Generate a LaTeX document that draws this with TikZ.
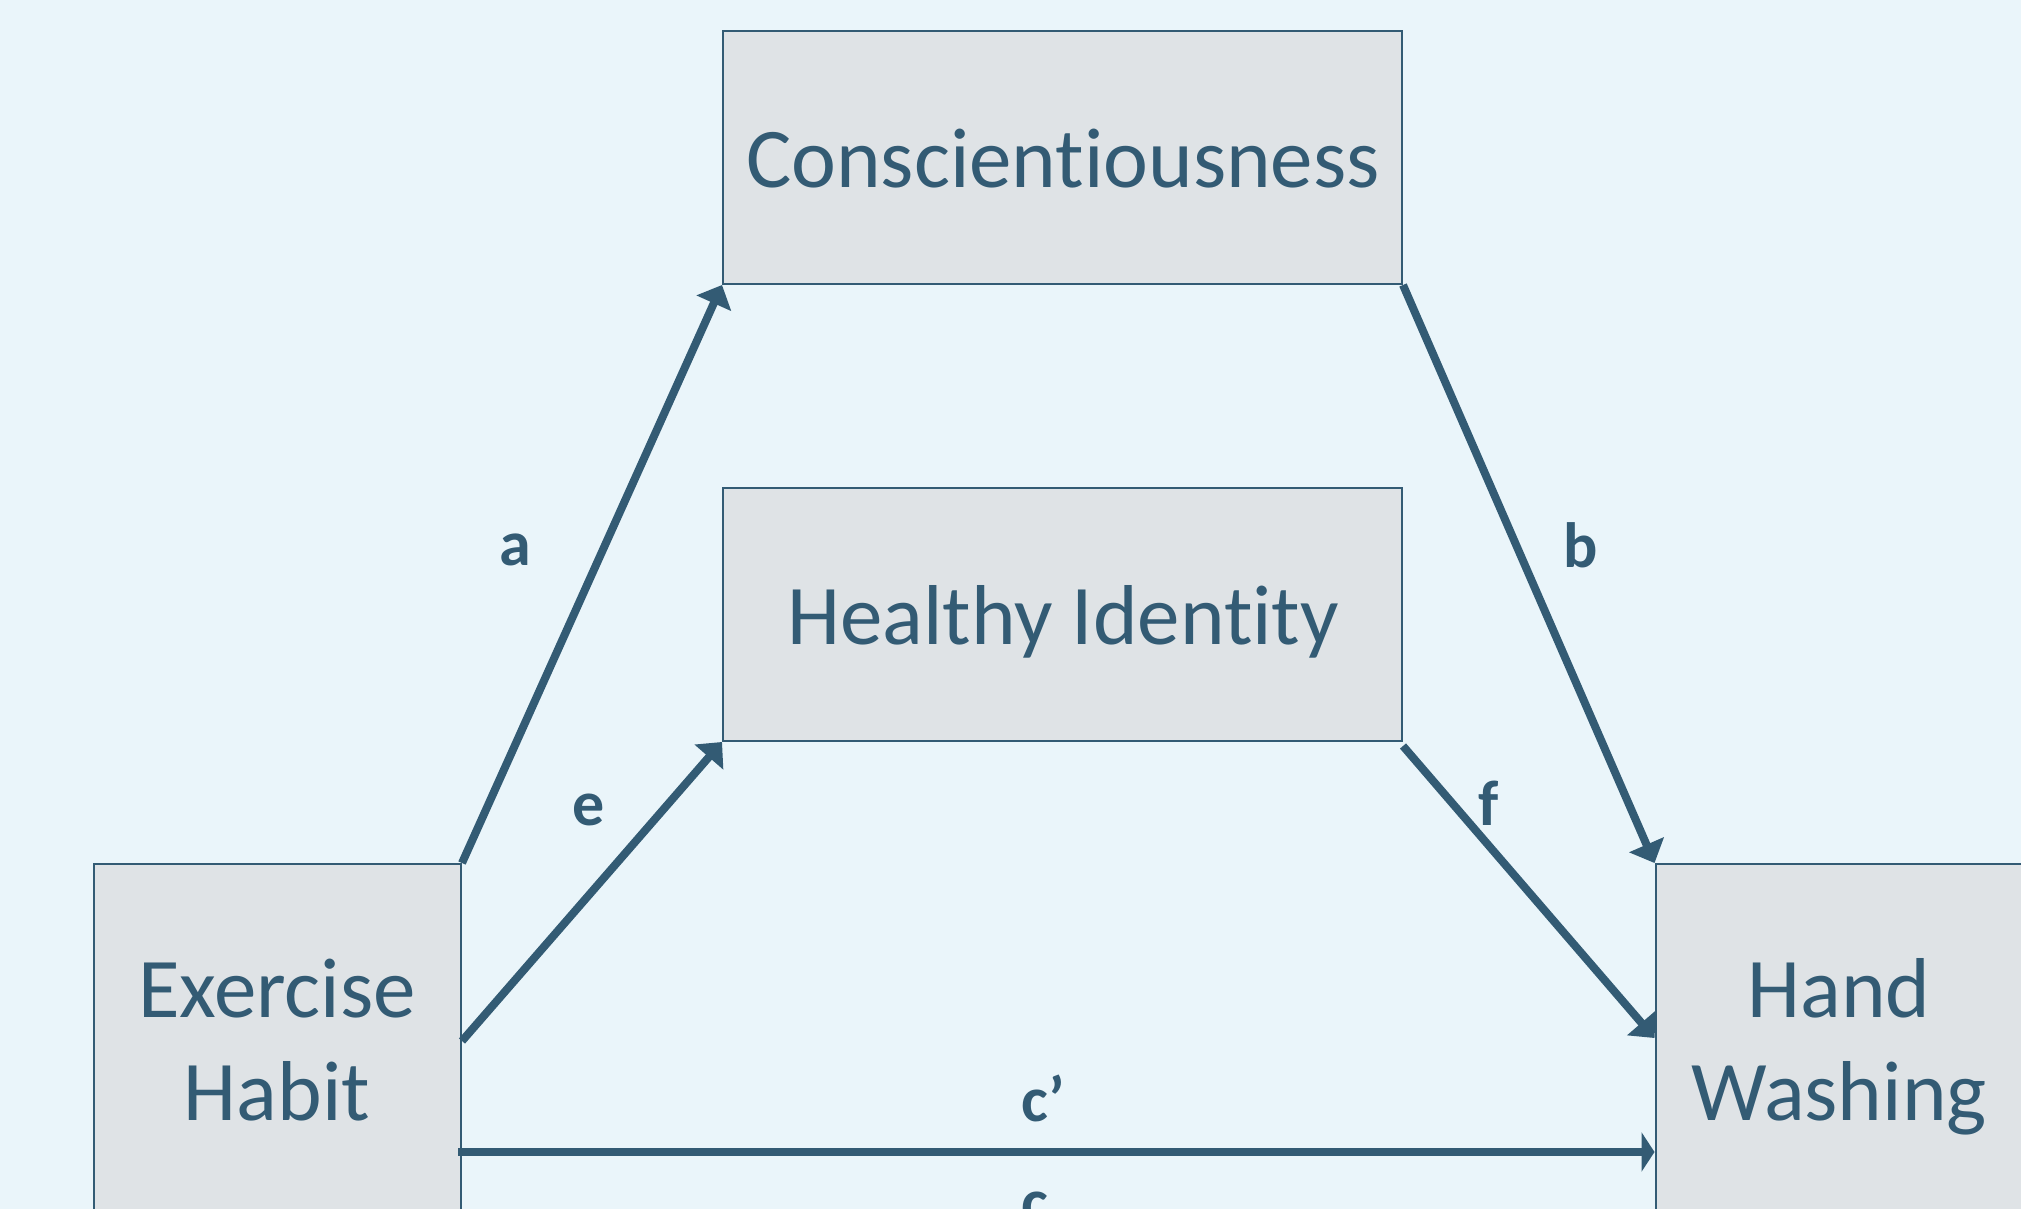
\documentclass[tikz,border=0pt]{standalone}
\usepackage{fontspec}
\setmainfont[Ligatures=NoCommon]{Carlito}
\usetikzlibrary{arrows.meta}
\definecolor{bg}{RGB}{234,245,250}
\definecolor{boxfill}{RGB}{223,227,230}
\definecolor{ink}{RGB}{51,91,116}
\begin{document}
\begin{tikzpicture}[x=1pt,y=-1pt,
  boxnode/.style={draw=ink, line width=2pt, fill=boxfill, inner sep=0pt},
  bigbox/.style={boxnode, minimum width=679pt, minimum height=253pt},
  sidebox/.style={boxnode, minimum width=367pt, minimum height=360pt},
  txt/.style={text=ink, font=\fontsize{85}{100}\selectfont, anchor=base, inner sep=0pt},
  lbl/.style={text=ink, font=\fontsize{64}{76}\selectfont\bfseries, anchor=base, inner sep=0pt},
  link/.style={draw=ink, line width=8pt, -{Triangle[length=20pt,width=37pt]}},
  directlink/.style={draw=ink, line width=8pt, -{Triangle[length=13pt,width=39pt]}}]
\useasboundingbox (0,0) rectangle (2021,1209);
\clip (0,0) rectangle (2021,1209);
\fill[bg] (0,0) rectangle (2021,1209);

\node[bigbox] (con) at (1062.5,157.5) {};
\node[bigbox] (hid) at (1062.5,614.5) {};
\node[sidebox] (exh) at (277.5,1044) {};
\node[sidebox] (hwa) at (1839,1044) {};

\node[txt] (tcon) at (1063,188) {Conscientiousness};
\node[txt] (thid) at (1063,644) {Healthy Identity};
\node[txt] (tex1) at (277,1017) {Exercise};
\node[txt] (tex2) at (277,1120) {Habit};
\node[txt] (thw1) at (1839,1017) {Hand};
\node[txt] (thw2) at (1839,1120) {Washing};

\draw[link] (exh.north east) -- (con.south west);
\draw[link] ([yshift=3pt]exh.east) -- (hid.south west);
\draw[link] (con.south east) -- (hwa.north west);
\draw[link] ([yshift=-4pt]hid.south east) -- ([yshift=6pt]hwa.west);
\draw[directlink] ([yshift=-108pt,xshift=-4pt]exh.east) -- ([yshift=-108pt]hwa.west);

\node[lbl] (la) at (515,565) {a};
\node[lbl] (lb) at (1581,567) {b};
\node[lbl] (le) at (589,825) {e};
\node[lbl] (lf) at (1489,825) {f};
\node[lbl] (lcp) at (1043,1121) {c’};
\node[lbl] (lc) at (1035,1223) {c};
\end{tikzpicture}
\end{document}
